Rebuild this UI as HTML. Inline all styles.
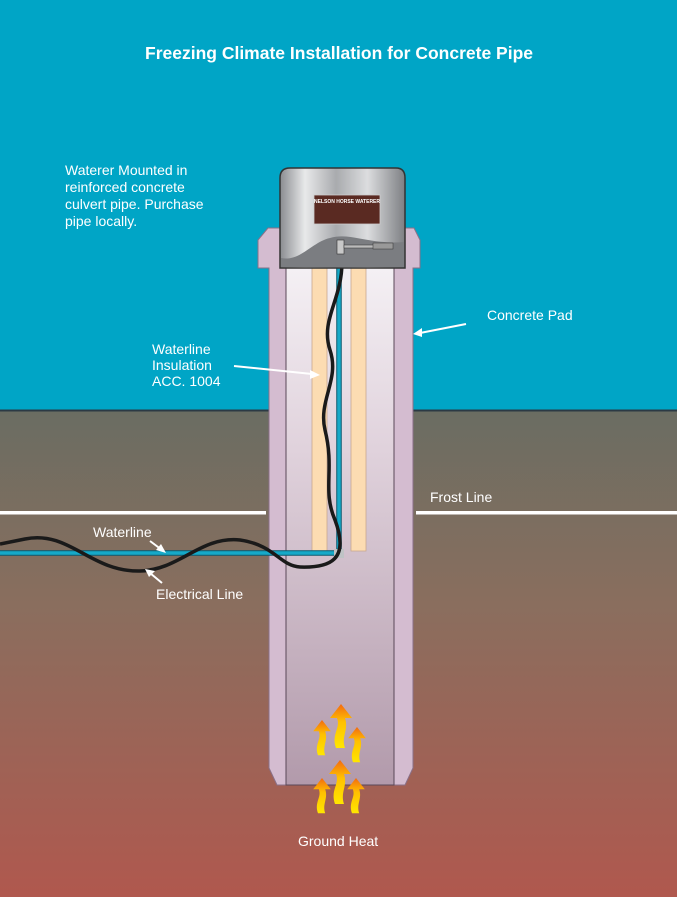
<!DOCTYPE html>
<html><head><meta charset="utf-8"><style>
html,body{margin:0;padding:0}
body{width:677px;height:897px;overflow:hidden;font-family:"Liberation Sans",Arial,sans-serif}
svg text{font-family:"Liberation Sans",Arial,sans-serif;fill:#fff}
</style></head><body>
<svg width="677" height="897" viewBox="0 0 677 897" xmlns="http://www.w3.org/2000/svg">
<defs>
<linearGradient id="gnd" x1="0" y1="0" x2="0" y2="1">
<stop offset="0" stop-color="#6a6d62"/><stop offset="0.4" stop-color="#8a6e5e"/><stop offset="1" stop-color="#b0584e"/></linearGradient>
<linearGradient id="bore" x1="0" y1="0" x2="0" y2="1">
<stop offset="0" stop-color="#f4f0f4"/><stop offset="0.35" stop-color="#e0d2dc"/><stop offset="1" stop-color="#b29aab"/></linearGradient>
<linearGradient id="steel" x1="0" y1="0" x2="1" y2="0">
<stop offset="0" stop-color="#8a8c90"/><stop offset="0.2" stop-color="#e8e9ea"/><stop offset="0.45" stop-color="#a9abae"/><stop offset="0.7" stop-color="#dcdddf"/><stop offset="1" stop-color="#7d7f83"/></linearGradient>
<linearGradient id="flame" x1="0" y1="1" x2="0" y2="0">
<stop offset="0" stop-color="#ffe600"/><stop offset="0.6" stop-color="#ffc000"/><stop offset="1" stop-color="#f26a10"/></linearGradient>
<g id="ar"><path d="M-5,34 C-10,20 0,14 -4,4 L-11,4 L0,-10 L11,4 L4,4 C8,16 0,22 4,34 Z" fill="url(#flame)"/></g>
</defs>
<rect width="677" height="411" fill="#00a5c6"/>
<rect y="410" width="677" height="487" fill="url(#gnd)"/>
<line x1="0" y1="410.5" x2="677" y2="410.5" stroke="#2c3a44" stroke-width="2"/>
<rect x="0" y="511" width="266" height="3.5" fill="#fff"/>
<rect x="416" y="511" width="261" height="3.5" fill="#fff"/>
<!-- pipe -->
<path d="M258,240 L268,228 L414,228 L420,240 L420,268 L413,268 L413,768 L405,785 L277,785 L269,768 L269,268 L258,268 Z" fill="#d4bcd0" stroke="#8a7088" stroke-width="1"/>
<rect x="286" y="268" width="108" height="517" fill="url(#bore)" stroke="#5a4858" stroke-width="1"/>
<!-- insulation -->
<rect x="312" y="268" width="15" height="283" fill="#fcdcb2" stroke="#c8a890" stroke-width="0.8"/>
<rect x="351" y="268" width="15" height="283" fill="#fcdcb2" stroke="#c8a890" stroke-width="0.8"/>
<!-- waterline -->
<path d="M339,262 L339,553 L0,553" fill="none" stroke="#0a5a70" stroke-width="5.5"/>
<path d="M339,262 L339,553 L0,553" fill="none" stroke="#16a9c8" stroke-width="3.5"/>
<rect x="334" y="549" width="10" height="9" fill="#bfc3c5"/>
<!-- cable -->
<path d="M342,262 C342,300 320,320 330,350 C340,380 318,400 325,430 C335,470 322,490 335,520 C350,560 330,568 300,567 C280,566 275,545 240,540 C200,536 180,570 140,571 C90,572 70,530 25,539 C15,541 5,543 0,544" fill="none" stroke="#1a1a1a" stroke-width="3.5"/>
<!-- waterer -->
<path d="M280,178 Q280,168 290,168 L396,168 Q405,168 405,178 L405,268 L280,268 Z" fill="url(#steel)" stroke="#333" stroke-width="1.5"/>
<path d="M281,258 C300,262 312,242 330,238 C350,232 370,245 404,242 L404,267 L281,267 Z" fill="#7b7d81"/>
<rect x="314" y="195" width="66" height="29" fill="#5a2a22" stroke="#ccc" stroke-width="0.8"/>
<text x="347" y="203" font-size="5" text-anchor="middle" font-weight="bold">NELSON HORSE WATERER</text>
<rect x="337" y="240" width="7" height="14" fill="#c8c8c8" stroke="#333" stroke-width="0.6"/>
<rect x="344" y="245" width="30" height="3" fill="#bbb" stroke="#333" stroke-width="0.5"/>
<rect x="373" y="243" width="20" height="6" fill="#999" stroke="#333" stroke-width="0.5"/>
<!-- heat arrows -->
<use href="#ar" transform="translate(341,714)"/>
<use href="#ar" transform="translate(322,728) scale(0.8)"/>
<use href="#ar" transform="translate(357,735) scale(0.8)"/>
<use href="#ar" transform="translate(340,770)"/>
<use href="#ar" transform="translate(322,786) scale(0.8)"/>
<use href="#ar" transform="translate(356,786) scale(0.8)"/>
<!-- labels -->
<text x="339" y="59" font-size="17.5" font-weight="bold" text-anchor="middle">Freezing Climate Installation for Concrete Pipe</text>
<text font-size="14"><tspan x="65" y="175">Waterer Mounted in</tspan><tspan x="65" y="192">reinforced concrete</tspan><tspan x="65" y="209">culvert pipe. Purchase</tspan><tspan x="65" y="226">pipe locally.</tspan></text>
<text x="487" y="320" font-size="14">Concrete Pad</text>
<line x1="466" y1="324" x2="420" y2="333" stroke="#fff" stroke-width="2"/>
<path d="M413,334 L422,328 L422,337 Z" fill="#fff"/>
<text font-size="14"><tspan x="152" y="354">Waterline</tspan><tspan x="152" y="370">Insulation</tspan><tspan x="152" y="386">ACC. 1004</tspan></text>
<line x1="234" y1="366" x2="312" y2="374" stroke="#fff" stroke-width="2"/>
<path d="M320,375 L310,370 L310,379 Z" fill="#fff"/>
<text x="430" y="502" font-size="14">Frost Line</text>
<text x="93" y="537" font-size="14">Waterline</text>
<line x1="150" y1="541" x2="162" y2="550" stroke="#fff" stroke-width="2"/>
<path d="M166,553 L156,550 L161,544 Z" fill="#fff"/>
<text x="156" y="599" font-size="14">Electrical Line</text>
<line x1="162" y1="583" x2="150" y2="573" stroke="#fff" stroke-width="2"/>
<path d="M145,569 L155,571 L149,577 Z" fill="#fff"/>
<text x="298" y="846" font-size="14">Ground Heat</text>
</svg>
</body></html>
